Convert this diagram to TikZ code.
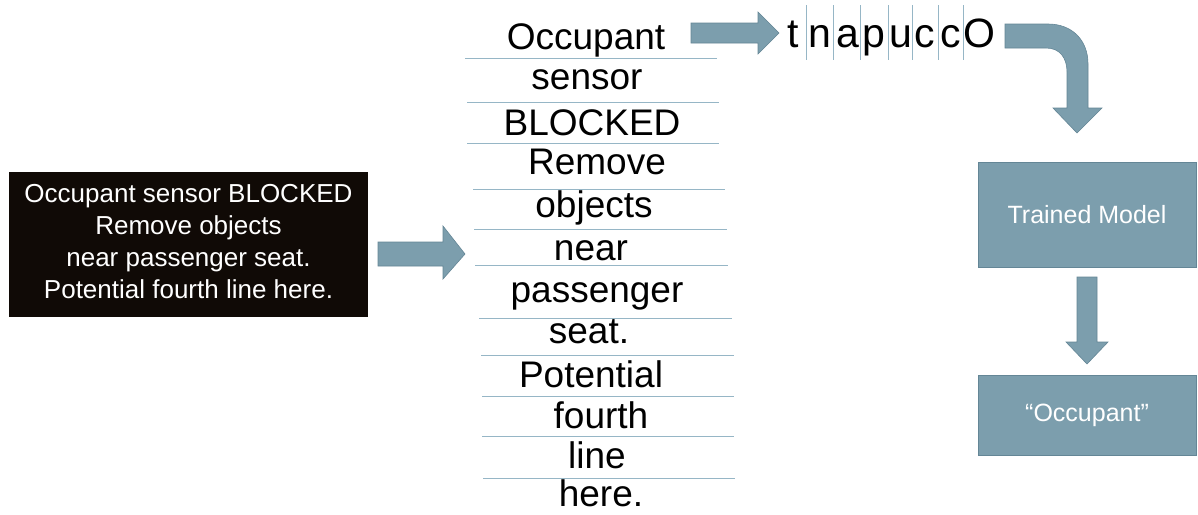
\documentclass[tikz,border=0pt]{standalone}
\usepackage{fontspec}
\setmainfont{Liberation Sans}
\definecolor{steel}{RGB}{124,158,173}
\definecolor{steeledge}{RGB}{100,134,150}
\definecolor{sepline}{RGB}{150,182,198}
\definecolor{blackbox}{RGB}{16,10,6}
\tikzset{
  fatarrow/.style={fill=steel,draw=steeledge,line width=0.6pt},
  sepl/.style={draw=sepline,line width=1pt},
  word/.style={font=\fontsize{37}{37}\selectfont,inner sep=0pt,anchor=base},
  rletter/.style={font=\fontsize{41}{41}\selectfont,inner sep=0pt,anchor=base},
  bluebox/.style={fill=steel,draw=steeledge,line width=0.6pt,text=white,font=\fontsize{25}{25}\selectfont,inner sep=0pt},
}
\begin{document}
\begin{tikzpicture}[x=1pt,y=-1pt]
\useasboundingbox (0,0) rectangle (1198,514);
\fill[white] (0,0) rectangle (1198,514);

% black message box
\node[fill=blackbox,minimum width=359pt,minimum height=145pt,inner sep=0pt] (msgbox) at (188.5,244.5) {};
\node[text=white,inner sep=0pt,align=center,font=\fontsize{26}{32}\selectfont] (msg) at (188.5,241.5)
  {Occupant sensor BLOCKED\\Remove objects\\near passenger seat.\\Potential fourth line here.};

% arrow from message to word list
\path[fatarrow] (378,242) -- (443,242) -- (443,226) -- (465,254) -- (443,279) -- (443,266) -- (378,266) -- cycle;

% word list
\foreach \w/\x/\y in {Occupant/586/49, sensor/587/89, BLOCKED/592/135, Remove/597/174, objects/594/217,
  near/591/260, passenger/597/302, seat./589/343, Potential/591/387, fourth/601/428, line/597/468, here./601/506}
  {\node[word] (w-\w) at (\x,\y) {\w};}

\foreach \y/\a/\b in {58/465/717, 102/467/719, 143/467/719, 189/473/725, 229/474/727, 265/475/728,
  318/479/732, 355/481/734, 396/482/734, 436/482/734, 478/483/735}
  {\path[sepl] (\a,\y) -- (\b,\y);}

% top arrow
\path[fatarrow] (691,23) -- (758,23) -- (758,12) -- (779,33) -- (758,54) -- (758,43) -- (691,43) -- cycle;

% reversed letters
\foreach \l/\x [count=\i] in {t/793, n/820, a/848, p/874, u/901, c/925, c/951, O/979}
  {\node[rletter] (r\i) at (\x,47) {\l};}
\foreach \x in {806,833,860,888,912,938,963}
  {\path[draw=sepline,line width=0.8pt] (\x,5) -- (\x,60);}

% curved arrow
\path[fatarrow] (1005,24) -- (1048,24) .. controls (1072,24) and (1088,40) .. (1088,64)
  -- (1088,108) -- (1102,108) -- (1077,133) -- (1053,108) -- (1067,108) -- (1067,72)
  .. controls (1067,58) and (1060,48) .. (1046,48) -- (1005,48) -- cycle;

% trained model box
\node[bluebox,minimum width=218pt,minimum height=105pt] (tm) at (1087,214.5) {Trained Model};

% down arrow
\path[fatarrow] (1077,277) -- (1097,277) -- (1097,342) -- (1108,342) -- (1087,364) -- (1066,342) -- (1077,342) -- cycle;

% result box
\node[bluebox,minimum width=218pt,minimum height=80pt] (res) at (1087,415) {“Occupant”};
\end{tikzpicture}
\end{document}
